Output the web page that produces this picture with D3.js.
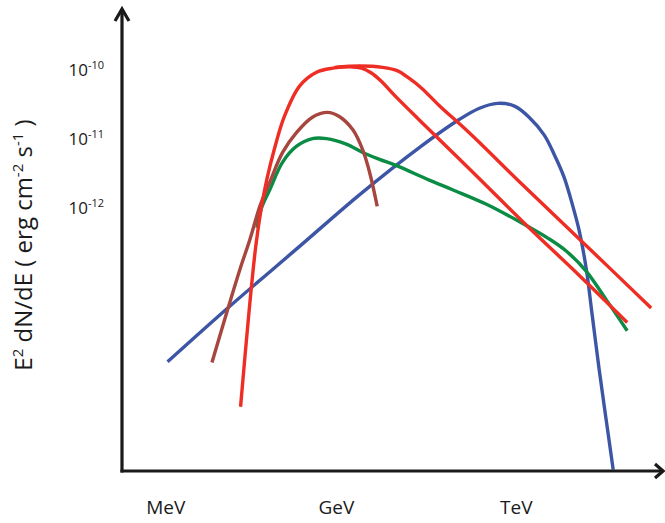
<!DOCTYPE html>
<html>
<head>
<meta charset="utf-8">
<script src="https://cdn.jsdelivr.net/npm/d3@7"></script>
<style>
  body { margin: 0; background: #fff; }
  text { font-family: "Open Sans", sans-serif; fill: #1a1a1a; }
</style>
</head>
<body>
<div class="chart"></div>
<script>
const width = 665, height = 523;

// values are log10(E / eV) and log10(E^2 dN/dE / erg cm-2 s-1)
const xTickLabels = ["MeV", "GeV", "TeV"];
const xTickPos = [6, 8.92, 12];
const yTicks = [-10, -11, -12];

const blue = [[6.03,-14.22],[7.09,-13.42],[8.29,-12.55],[9.32,-11.80],[10.34,-11.12],
  [11.03,-10.71],[11.37,-10.55],[11.68,-10.48],[11.97,-10.52],[12.22,-10.68],[12.48,-10.94],
  [12.65,-11.22],[12.82,-11.55],[12.96,-11.94],[13.08,-12.33],[13.20,-12.88],[13.30,-13.54],
  [13.42,-14.33],[13.54,-15.06],[13.66,-15.78]];

const redA = [[7.28,-14.87],[7.42,-13.54],[7.54,-12.55],[7.64,-11.97],[7.73,-11.58],
  [7.85,-11.17],[8.03,-10.67],[8.29,-10.23],[8.58,-10.03],[8.86,-9.97],[9.15,-9.95],
  [9.35,-9.97],[9.52,-10.04],[9.69,-10.16],[9.90,-10.35],[10.34,-10.72],[11.20,-11.43],
  [12.22,-12.28],[13.08,-12.97],[13.90,-13.65]];

const redB = [[8.89,-9.96],[9.32,-9.94],[9.71,-9.96],[9.97,-10.01],[10.17,-10.12],
  [10.38,-10.26],[10.68,-10.51],[11.20,-10.91],[12.05,-11.61],[13.20,-12.54],[14.31,-13.44]];

const brown = [[6.79,-14.23],[7.06,-13.46],[7.27,-12.88],[7.44,-12.45],[7.61,-11.97],
  [7.78,-11.62],[8.00,-11.19],[8.24,-10.90],[8.51,-10.68],[8.77,-10.61],[8.97,-10.67],
  [9.20,-10.86],[9.37,-11.15],[9.49,-11.48],[9.62,-11.97]];

const green = [[7.56,-12.28],[7.64,-11.99],[7.78,-11.73],[8.00,-11.33],[8.24,-11.10],
  [8.51,-10.99],[8.75,-10.99],[9.09,-11.07],[9.37,-11.19],[9.66,-11.29],[9.95,-11.38],
  [10.51,-11.59],[10.91,-11.73],[11.49,-11.94],[12.05,-12.19],[12.56,-12.44],
  [12.86,-12.62],[13.20,-12.91],[13.54,-13.32],[13.90,-13.77]];

const series = [
  { pts: blue, color: "#3c55a5" },
  { pts: green, color: "#0b8c45" },
  { pts: brown, color: "#a6463f" },
  { pts: redA, color: "#ee2d24" },
  { pts: redB, color: "#ee2d24" }
];

const svg = d3.select(".chart").append("svg")
  .attr("width", width).attr("height", height);

const x = d3.scaleLinear().domain([5.25, 14.53]).range([122, 664]);
const y = d3.scaleLinear().domain([-15.8, -9.1]).range([471, 8]);

const line = d3.line()
  .x(d => x(d[0])).y(d => y(d[1]))
  .curve(d3.curveCatmullRom.alpha(0.5));

svg.selectAll(".curve").data(series).join("path")
  .attr("class", "curve")
  .attr("d", d => line(d.pts))
  .attr("fill", "none")
  .attr("stroke", d => d.color)
  .attr("stroke-width", 3.4);

// axes with open arrow heads
const x0 = x.range()[0], x1 = x.range()[1], y0 = y.range()[0], y1 = y.range()[1];
const axis = svg.append("g")
  .attr("fill", "none").attr("stroke", "#1a1a1a").attr("stroke-width", 3.2);
axis.append("line").attr("x1", x0).attr("y1", y0 + 1.5).attr("x2", x0).attr("y2", y1 + 1);
axis.append("line").attr("x1", x0 - 1.5).attr("y1", y0).attr("x2", x1 - 1).attr("y2", y0);
axis.append("polyline")
  .attr("points", [[x0 - 7, y1 + 13], [x0, y1 + 1], [x0 + 7, y1 + 13]].join(" "));
axis.append("polyline")
  .attr("points", [[x1 - 9, y0 - 7], [x1 - 1, y0], [x1 - 9, y0 + 7]].join(" "));

// y tick labels 10^n
const yl = svg.selectAll(".ylab").data(yTicks).join("text")
  .attr("class", "ylab")
  .attr("x", 104)
  .attr("y", d => y(d) + 6)
  .attr("text-anchor", "end")
  .style("font-size", "17px");
yl.append("tspan").text("10");
yl.append("tspan").attr("dy", -7).style("font-size", "11px").text(d => String(d));

// x labels
svg.selectAll(".xlab").data(xTickLabels).join("text")
  .attr("class", "xlab")
  .attr("x", (d, i) => x(xTickPos[i]))
  .attr("y", 514)
  .attr("text-anchor", "middle")
  .style("font-size", "19px")
  .text(d => d);

// y title
const title = svg.append("text")
  .attr("transform", "translate(32,245) rotate(-90)")
  .attr("text-anchor", "middle")
  .style("font-size", "24px");
const parts = [["E", 0], ["2", 1], [" dN/dE ( erg cm", 0], ["-2", 1], [" s", 0], ["-1", 1], [" )", 0]];
let raised = false;
parts.forEach(p => {
  const t = title.append("tspan").text(p[0]);
  if (p[1] && !raised) { t.attr("dy", -9).style("font-size", "15px"); raised = true; }
  else if (p[1]) { t.style("font-size", "15px"); }
  else if (raised) { t.attr("dy", 9); raised = false; }
});
</script>
</body>
</html>
